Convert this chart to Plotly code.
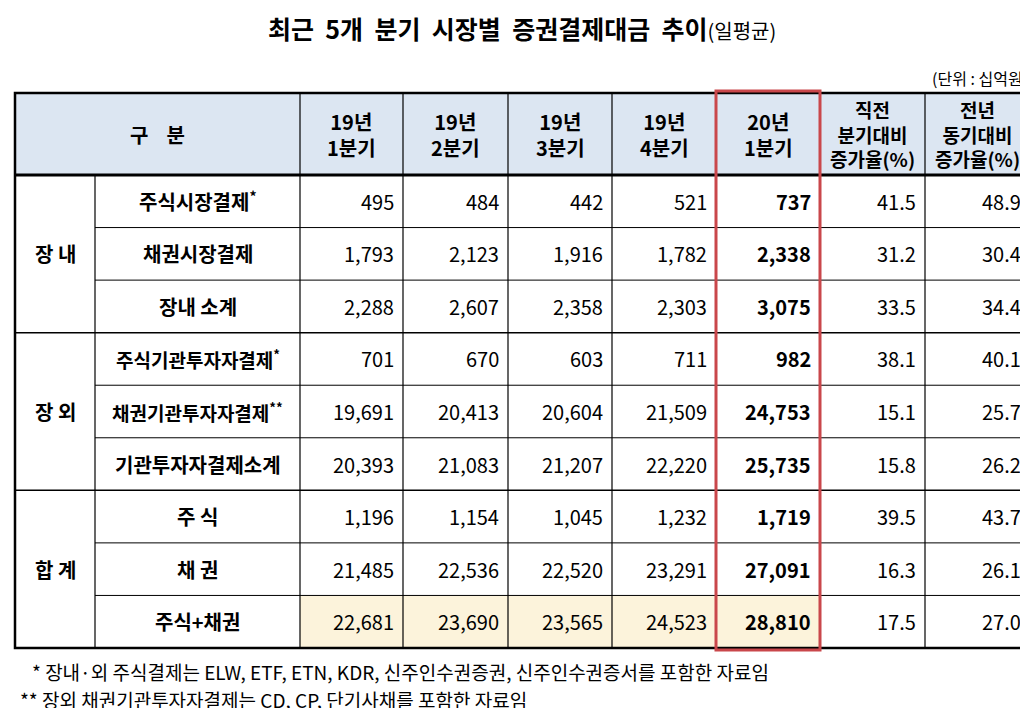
import plotly.graph_objects as go

# data
quarters = ["19년<br>1분기", "19년<br>2분기", "19년<br>3분기", "19년<br>4분기", "20년<br>1분기"]
rate_heads = ["직전<br>분기대비<br>증가율(%)", "전년<br>동기대비<br>증가율(%)"]
groups = ["장 내", "장 외", "합 계"]
labels = ["주식시장결제<sup>*</sup>", "채권시장결제", "장내 소계",
          "주식기관투자자결제<sup>*</sup>", "채권기관투자자결제<sup>**</sup>", "기관투자자결제소계",
          "주 식", "채 권", "주식+채권"]
q1_19 = [495, 1793, 2288, 701, 19691, 20393, 1196, 21485, 22681]
q2_19 = [484, 2123, 2607, 670, 20413, 21083, 1154, 22536, 23690]
q3_19 = [442, 1916, 2358, 603, 20604, 21207, 1045, 22520, 23565]
q4_19 = [521, 1782, 2303, 711, 21509, 22220, 1232, 23291, 24523]
q1_20 = [737, 2338, 3075, 982, 24753, 25735, 1719, 27091, 28810]
qoq = [41.5, 31.2, 33.5, 38.1, 15.1, 15.8, 39.5, 16.3, 17.5]
yoy = [48.9, 30.4, 34.4, 40.1, 25.7, 26.2, 43.7, 26.1, 27.0]

FONT = "Noto Sans CJK KR"
cols = [7, 87, 292, 395, 500, 604, 708, 812, 917, 1022]
top, hdr = 85, 167
rh = (640 - hdr) / 9
rows = [hdr + i * rh for i in range(10)]

shapes, ann = [], []
def rect(x0, y0, x1, y1, fill=None, lw=0, lc="black"):
    shapes.append(dict(type="rect", x0=x0, y0=y0, x1=x1, y1=y1, xref="x", yref="y",
                       fillcolor=fill or "rgba(0,0,0,0)", line=dict(width=lw, color=lc), layer="below" if fill else "above"))
def line(x0, y0, x1, y1, w=1.2):
    shapes.append(dict(type="line", x0=x0, y0=y0, x1=x1, y1=y1, xref="x", yref="y",
                       line=dict(width=w, color="black")))
def text(x, y, t, size=20, anchor="center", bold=False, color="black"):
    ann.append(dict(x=x, y=y, xref="x", yref="y", text=f"<b>{t}</b>" if bold else t, showarrow=False,
                    xanchor=anchor, yanchor="middle", font=dict(family=FONT, size=size, color=color), align="center"))

# fills
rect(cols[0], top, cols[-1], hdr, fill="#dce6f2")
rect(cols[2], rows[8], cols[7], rows[9], fill="#fcf3db")

# grid
for c in cols[2:-1]:
    line(c, top, c, rows[9])
line(cols[1], hdr, cols[1], rows[9])
line(cols[0], hdr, cols[-1], hdr, 3)
for i in range(1, 9):
    x0 = cols[0] if i % 3 == 0 else cols[1]
    line(x0, rows[i], cols[-1], rows[i], 1.5 if i % 3 == 0 else 1)
rect(cols[0], top, cols[-1], rows[9], lw=2.5)
rect(cols[6], top - 2, cols[7], rows[9] + 2, lw=3, lc="#c9474b")

# header text
text((cols[0] + cols[2]) / 2, (top + hdr) / 2, "구    분", bold=True)
for j, q in enumerate(quarters):
    text((cols[2 + j] + cols[3 + j]) / 2, (top + hdr) / 2, q, bold=True)
for j, h in enumerate(rate_heads):
    text((cols[7 + j] + cols[8 + j]) / 2, (top + hdr) / 2, h, size=19, bold=True)

# body
vals = [q1_19, q2_19, q3_19, q4_19, q1_20]
for g, name in enumerate(groups):
    text((cols[0] + cols[1]) / 2, (rows[3 * g] + rows[3 * g + 3]) / 2, name, bold=True)
for i, lab in enumerate(labels):
    yc = (rows[i] + rows[i + 1]) / 2
    text((cols[1] + cols[2]) / 2, yc, lab, bold=True, size=20 if i not in (3, 4) else 19)
    for j, series in enumerate(vals):
        text(cols[3 + j] - 7, yc, f"{series[i]:,}", anchor="right", bold=(j == 4))
    text(cols[8] - 7, yc, f"{qoq[i]:.1f}", anchor="right")
    text(cols[9] - 7, yc, f"{yoy[i]:.1f}", anchor="right")

# titles and notes
ann.append(dict(x=514, y=20, xref="x", yref="y", showarrow=False, xanchor="center", yanchor="middle",
                text="<b>최근  5개  분기  시장별  증권결제대금  추이</b><span style='font-size:20px'>(일평균)</span>",
                font=dict(family=FONT, size=25, color="black")))
text(1022, 70, "(단위 : 십억원)", size=16, anchor="right")
text(22, 663, "* 장내·외 주식결제는 ELW, ETF, ETN, KDR, 신주인수권증권, 신주인수권증서를 포함한 자료임", size=19, anchor="left")
text(10, 691, "** 장외 채권기관투자자결제는 CD, CP, 단기사채를 포함한 자료임", size=19, anchor="left")

fig = go.Figure()
fig.update_layout(width=1028, height=708, margin=dict(l=0, r=0, t=0, b=0),
                  plot_bgcolor="white", paper_bgcolor="white", shapes=shapes, annotations=ann,
                  xaxis=dict(range=[0, 1028], visible=False, fixedrange=True),
                  yaxis=dict(range=[708, 0], visible=False, fixedrange=True),
                  showlegend=False)
fig.write_html("out.html")
